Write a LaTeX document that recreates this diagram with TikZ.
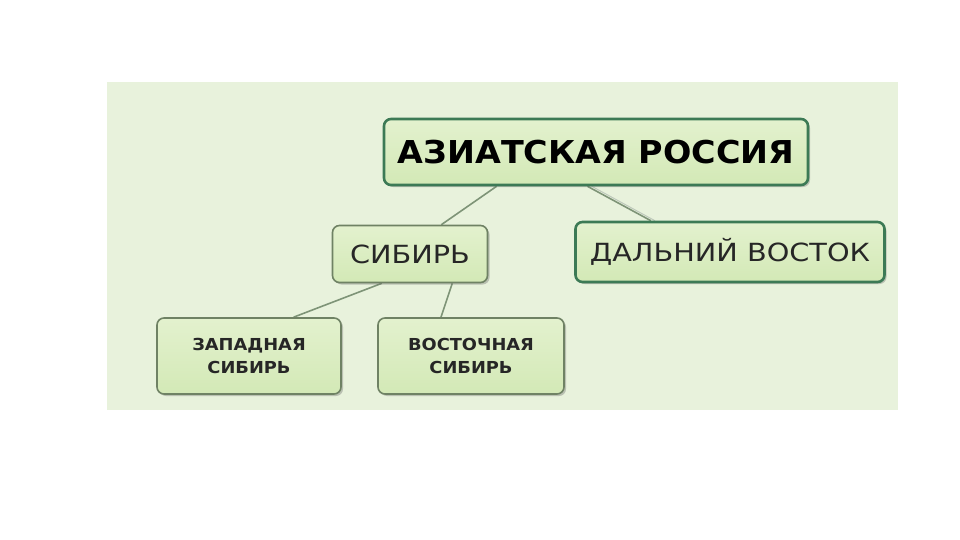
\documentclass[tikz,border=0pt]{standalone}
\usepackage{fontspec}
\usepackage{graphicx}
\setmainfont{DejaVu Sans}
\usetikzlibrary{shadows,calc,backgrounds}
\definecolor{panel}{HTML}{E8F2DC}
\definecolor{boxtop}{HTML}{E3F1CE}
\definecolor{boxbot}{HTML}{D3E9B6}
\definecolor{darkrim}{HTML}{3C7A55}
\definecolor{greyrim}{HTML}{6F8264}
\definecolor{linkc}{HTML}{7E9477}
\newcommand{\wide}[2]{\scalebox{#1}[1]{#2}}
\tikzset{
  box/.style={rounded corners=7pt, top color=boxtop, bottom color=boxbot,
    align=center, inner sep=0pt, text=black!85,
    drop shadow={shadow xshift=2pt, shadow yshift=-2pt, opacity=0.35, fill=black!60}},
  darkbox/.style={box, draw=darkrim, line width=2.6pt},
  greybox/.style={box, draw=greyrim, line width=1.6pt},
  link/.style={draw=linkc, line width=1.6pt},
}
\begin{document}
\begin{tikzpicture}[x=1pt,y=-1pt]
\useasboundingbox (0,0) rectangle (960,540);
% nodes
\node[darkbox, minimum width=424pt, minimum height=66pt,
  font=\fontsize{31.5}{33}\selectfont\bfseries, text=black] (root) at (596,152)
  {\wide{1.06}{АЗИАТСКАЯ РОССИЯ}};
\node[greybox, minimum width=155pt, minimum height=57pt,
  font=\fontsize{25}{27}\selectfont] (sib) at (410,254)
  {\wide{1.15}{СИБИРЬ}};
\node[darkbox, minimum width=309pt, minimum height=60pt,
  font=\fontsize{25}{27}\selectfont] (far) at (730,252)
  {\wide{1.15}{ДАЛЬНИЙ ВОСТОК}};
\node[greybox, minimum width=184pt, minimum height=76pt,
  font=\fontsize{16.5}{23}\selectfont\bfseries] (west) at (249,356)
  {\wide{1.08}{ЗАПАДНАЯ}\\\wide{1.08}{СИБИРЬ}};
\node[greybox, minimum width=186pt, minimum height=76pt,
  font=\fontsize{16.5}{23}\selectfont\bfseries] (east) at (471,356)
  {\wide{1.08}{ВОСТОЧНАЯ}\\\wide{1.08}{СИБИРЬ}};
\begin{scope}[on background layer]
\fill[white] (0,0) rectangle (960,540);
\fill[panel] (107,82) rectangle (898,410);
\draw[link] ($(root.south west)!0.267!(root.south east)$) -- ($(sib.north west)!0.70!(sib.north east)$);
\draw[link] ($(root.south west)!0.48!(root.south east)$) -- ($(far.north west)!0.246!(far.north east)$);
\draw[link,draw=linkc!50,line width=1pt] ($(root.south west)!0.49!(root.south east)$) -- ($(far.north west)!0.259!(far.north east)$);
\draw[link] ($(sib.south west)!0.32!(sib.south east)$) -- ($(west.north west)!0.74!(west.north east)$);
\draw[link] ($(sib.south west)!0.77!(sib.south east)$) -- ($(east.north west)!0.34!(east.north east)$);
\end{scope}
\end{tikzpicture}
\end{document}
